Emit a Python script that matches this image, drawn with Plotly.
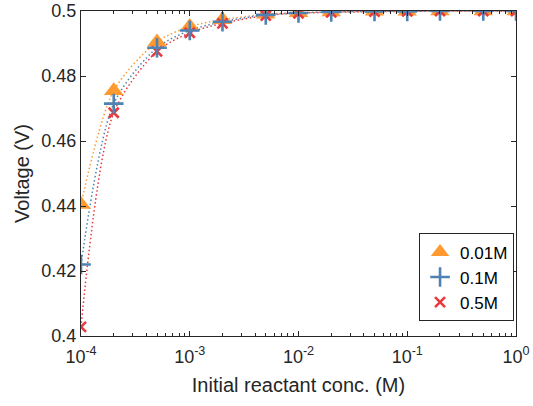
import plotly.graph_objects as go

# Initial reactant concentration (M)
conc = [1e-4, 2e-4, 5e-4, 1e-3, 2e-3, 5e-3, 1e-2, 2e-2, 5e-2, 0.1, 0.2, 0.5, 1.0]

# Cell voltage (V) for each electrolyte concentration
v_001 = [0.4405, 0.4755, 0.4905, 0.4952, 0.4973, 0.4990, 0.4995, 0.4997, 0.4999, 0.4999, 0.5, 0.5, 0.5]
v_01 = [0.4220, 0.4715, 0.4887, 0.4940, 0.4967, 0.4988, 0.4994, 0.4997, 0.4999, 0.4999, 0.5, 0.5, 0.5]
v_05 = [0.4028, 0.4687, 0.4876, 0.4933, 0.4962, 0.4986, 0.4993, 0.4996, 0.4998, 0.4999, 0.5, 0.5, 0.5]

labels = ["0.01M", "0.1M", "0.5M"]
x_ticks = [1e-4, 1e-3, 1e-2, 1e-1, 1]
x_ticktext = ["10<sup>-4</sup>", "10<sup>-3</sup>", "10<sup>-2</sup>", "10<sup>-1</sup>", "10<sup>0</sup>"]
y_ticks = [0.4, 0.42, 0.44, 0.46, 0.48, 0.5]
y_ticktext = ["0.4", "0.42", "0.44", "0.46", "0.48", "0.5"]

# minor ticks at 2..9 within each decade
x_minor = [m * d for d in x_ticks[:-1] for m in range(2, 10)]

c_orange = "#FF9A30"
c_blue = "#4F82B3"
c_red = "#E8393E"
ink = "#262626"
fam = "Liberation Sans, Arial, sans-serif"

fig = go.Figure()

# dotted guide curves
for y, c in [(v_001, c_orange), (v_01, c_blue), (v_05, c_red)]:
    fig.add_trace(go.Scatter(
        x=conc, y=y, mode="lines", showlegend=False, hoverinfo="skip",
        line=dict(color=c, width=1.5, dash="1.5px,2.5px", shape="spline", smoothing=0.8),
    ))

fig.add_trace(go.Scatter(
    x=conc, y=v_001, mode="markers", name=labels[0], legendrank=1,
    marker=dict(symbol="triangle-up", size=17, color=c_orange, line=dict(width=0)),
))
fig.add_trace(go.Scatter(
    x=conc, y=v_05, mode="markers", name=labels[2], legendrank=3,
    marker=dict(symbol="x-thin", size=10, color=c_red, line=dict(width=2.6, color=c_red)),
))
fig.add_trace(go.Scatter(
    x=conc, y=v_01, mode="markers", name=labels[1], legendrank=2,
    marker=dict(symbol="cross-thin", size=14, color=c_blue, line=dict(width=2.6, color=c_blue)),
))

fig.update_layout(
    width=533, height=406,
    margin=dict(l=81, r=17, t=11, b=70),
    plot_bgcolor="white", paper_bgcolor="white",
    font=dict(family=fam, size=18, color=ink),
    legend=dict(
        x=0.9955, y=0.045, xanchor="right", yanchor="bottom",
        bgcolor="white", bordercolor=ink, borderwidth=1,
        font=dict(family=fam, size=17, color="#000000"),
        itemsizing="trace", tracegroupgap=0,
        entrywidth=62, entrywidthmode="pixels",
    ),
)

fig.update_xaxes(
    type="log", range=[-4, 0], automargin=False,
    tickvals=x_ticks, ticktext=x_ticktext,
    ticks="inside", ticklen=5, tickcolor=ink,
    showline=True, linecolor=ink, linewidth=1, mirror="ticks",
    showgrid=False, zeroline=False, ticklabelstandoff=4,
    minor=dict(tickvals=x_minor, ticks="inside", ticklen=3, tickcolor=ink, showgrid=False),
    title=dict(text="Initial reactant conc. (M)", font=dict(size=20, color=ink), standoff=12),
    tickfont=dict(size=18, color=ink),
)
fig.update_yaxes(
    range=[0.4, 0.5], automargin=False,
    tickvals=y_ticks, ticktext=y_ticktext,
    ticks="inside", ticklen=5, tickcolor=ink,
    showline=True, linecolor=ink, linewidth=1, mirror="ticks",
    showgrid=False, zeroline=False,
    title=dict(text="Voltage (V)", font=dict(size=20, color=ink), standoff=6),
    tickfont=dict(size=18, color=ink),
)

fig.write_html("out.html")
